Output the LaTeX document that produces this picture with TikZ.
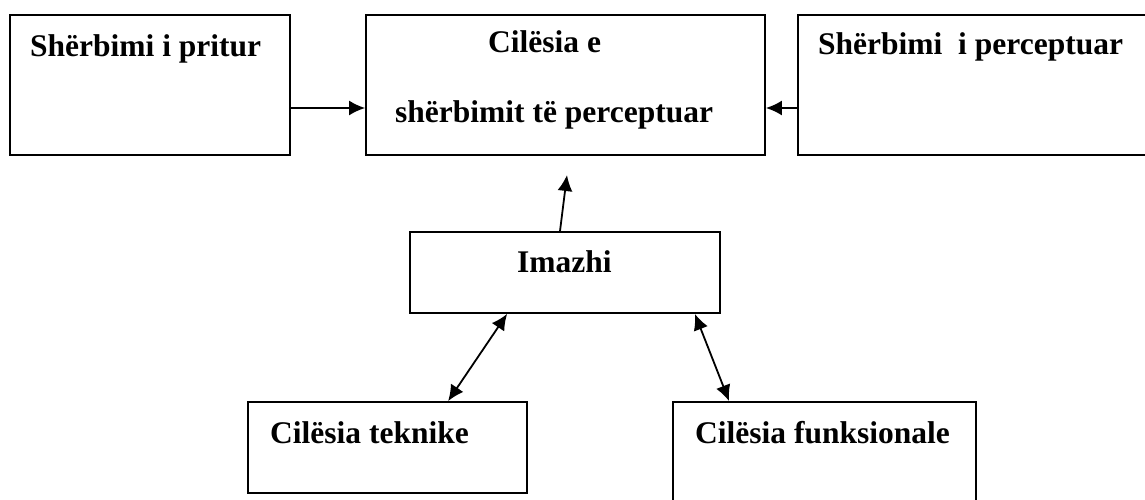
\documentclass[tikz,border=0pt]{standalone}
\usepackage{fontspec}
\setmainfont{Liberation Serif}
\usepackage{tikz}
\usetikzlibrary{arrows.meta}
\usepackage{xcolor}

\begin{document}
\begin{tikzpicture}[x=1pt,y=-1pt]

\tikzset{box/.style = {shape=rectangle,draw,line width=1.8pt,inner sep=0pt}}
\tikzset{lbl/.style = {anchor=base west,inner sep=0pt,font=\bfseries\fontsize{31.5}{38}\selectfont}}
\tikzset{edge/.style = {line width=1.8pt,-{Latex[length=16pt,width=15pt]}}}
\tikzset{both/.style = {line width=1.8pt,{Latex[length=16pt,width=15pt]}-{Latex[length=16pt,width=15pt]}}}

\useasboundingbox (0,0) rectangle (1145,500);

\node[box,minimum width=280pt,minimum height=140pt] (pritur) at (150,85) {};
\node[box,minimum width=399pt,minimum height=140pt] (cilesia) at (565.5,85) {};
\node[box,minimum width=357pt,minimum height=140pt] (perceptuar) at (976.5,85) {};
\node[box,minimum width=310pt,minimum height=81pt] (imazhi) at (565,272.5) {};
\node[box,minimum width=279pt,minimum height=91pt] (teknike) at (387.5,447.5) {};
\node[box,minimum width=303pt,minimum height=110pt] (funksionale) at (824.5,457) {};

%labels
\node[lbl] (t1) at (30,57) {Shërbimi i pritur};
\node[lbl] (t2) at (488,53) {Cilësia e};
\node[lbl] (t3) at (395,123) {shërbimit të perceptuar};
\node[lbl] (t4) at (818,55) {Shërbimi\ \ i perceptuar};
\node[lbl] (t5) at (517,272) {Imazhi};
\node[lbl] (t6) at (270,443) {Cilësia teknike};
\node[lbl] (t7) at (695,443) {Cilësia funksionale};

\coordinate (mid) at (0,108);
\coordinate (tip) at (567,175);

%edges
\draw[edge] (pritur.east |- mid) to (cilesia.west |- mid);
\draw[edge] (perceptuar.west |- mid) to (cilesia.east |- mid);
\draw[edge] ([xshift=-5pt]imazhi.north) to (tip);
\draw[both] ([xshift=98pt]imazhi.south west) to ([xshift=201pt]teknike.north west);
\draw[both] ([xshift=-26pt]imazhi.south east) to ([xshift=57pt]funksionale.north west);
\end{tikzpicture}
\end{document}
